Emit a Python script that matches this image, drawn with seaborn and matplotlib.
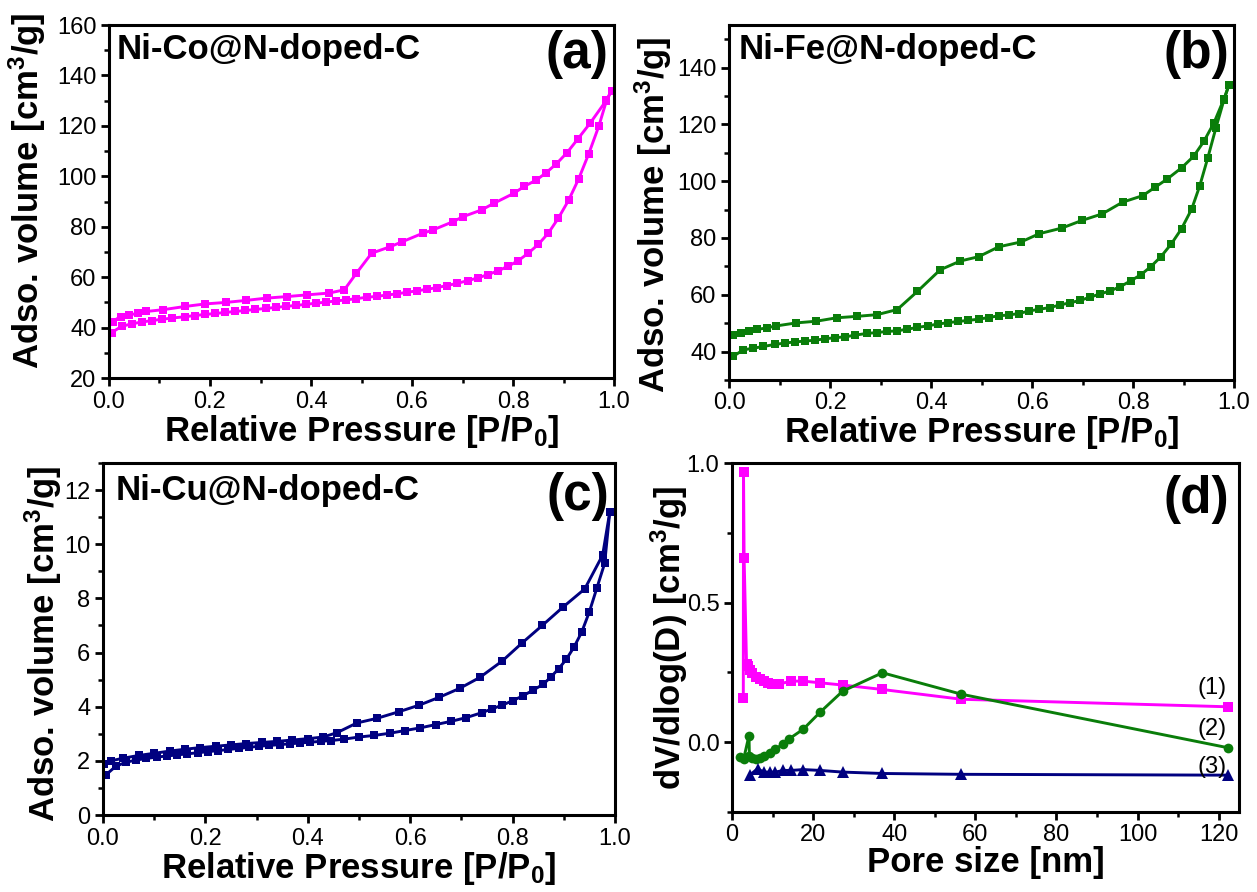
import matplotlib
matplotlib.use("Agg")
import matplotlib.pyplot as plt
from matplotlib.ticker import MultipleLocator
import seaborn as sns

# --- data ---

# (a) Ni-Co@N-doped-C isotherm
a_ads_p = [0.005, 0.025, 0.045, 0.065, 0.085, 0.105, 0.125, 0.15, 0.17, 0.19, 0.21, 0.23, 0.25,
           0.27, 0.29, 0.31, 0.33, 0.35, 0.37, 0.39, 0.41, 0.43, 0.45, 0.47, 0.49, 0.51, 0.53,
           0.55, 0.57, 0.59, 0.61, 0.63, 0.65, 0.67, 0.69, 0.71, 0.73, 0.75, 0.77, 0.79, 0.81,
           0.83, 0.85, 0.87, 0.89, 0.91, 0.93, 0.95, 0.97, 0.985, 0.995]
a_ads_v = [38, 40.5, 41.5, 42.2, 42.8, 43.3, 43.8, 44.3, 44.8, 45.2, 45.6, 46.0, 46.4,
           46.8, 47.2, 47.6, 48.0, 48.4, 48.8, 49.2, 49.7, 50.1, 50.6, 51.0, 51.5, 52.0, 52.4,
           52.9, 53.4, 54.0, 54.6, 55.2, 55.9, 56.7, 57.6, 58.6, 59.7, 61.0, 62.5, 64.3, 66.5,
           69.5, 73.0, 77.5, 83.5, 90.5, 99.0, 109.0, 120.0, 130.0, 134.0]
a_des_p = [0.995, 0.985, 0.953, 0.929, 0.907, 0.886, 0.866, 0.846, 0.822, 0.802, 0.762, 0.738,
           0.701, 0.681, 0.641, 0.621, 0.58, 0.557, 0.52, 0.49, 0.466, 0.436, 0.393, 0.352,
           0.312, 0.272, 0.232, 0.191, 0.151, 0.107, 0.074, 0.057, 0.04, 0.023, 0.007]
a_des_v = [134, 130.2, 121.2, 115, 109.4, 105, 101.5, 98.5, 96, 93.3, 89.3, 86.7,
           84, 82, 78.7, 77.4, 74, 72.1, 69.5, 61.6, 55, 53.7, 53, 52.3,
           51.7, 50.8, 50, 49.4, 48.4, 47.1, 46.4, 45.7, 45, 44.4, 42.4]

# (b) Ni-Fe@N-doped-C isotherm
b_ads_p = [0.008, 0.028, 0.048, 0.068, 0.09, 0.11, 0.13, 0.15, 0.17, 0.19, 0.21, 0.23, 0.25,
           0.273, 0.293, 0.313, 0.333, 0.353, 0.373, 0.394, 0.414, 0.434, 0.454, 0.474, 0.494,
           0.514, 0.534, 0.554, 0.574, 0.594, 0.614, 0.635, 0.655, 0.675, 0.695, 0.715, 0.735,
           0.755, 0.775, 0.795, 0.815, 0.835, 0.855, 0.876, 0.896, 0.916, 0.932, 0.948, 0.964,
           0.98, 0.99]
b_ads_v = [38.3, 40.6, 41.2, 41.8, 42.5, 43.0, 43.4, 43.7, 44.0, 44.5, 44.9, 45.2, 45.8,
           46.4, 46.7, 47.1, 47.3, 47.9, 48.5, 49.1, 49.7, 50.2, 50.6, 51.0, 51.4,
           52.0, 52.6, 52.9, 53.4, 54.3, 54.9, 55.5, 56.4, 57.2, 58.0, 59.2, 60.3,
           61.4, 62.9, 64.9, 67.0, 69.9, 73.4, 78.0, 83.3, 90.2, 98.4, 108.3, 118.8,
           128.7, 134.0]
b_des_p = [0.99, 0.98, 0.96, 0.94, 0.92, 0.896, 0.867, 0.843, 0.819, 0.779, 0.739, 0.699,
           0.659, 0.614, 0.578, 0.534, 0.494, 0.458, 0.418, 0.373, 0.333, 0.293, 0.253,
           0.213, 0.173, 0.133, 0.092, 0.076, 0.056, 0.04, 0.024, 0.008]
b_des_v = [134, 129, 120.5, 114, 108.8, 104.7, 100.7, 97.8, 94.9, 92.6, 88.5, 86.2,
           83.5, 81.5, 78.6, 76.9, 73.4, 71.9, 68.8, 61.2, 54.8, 53.0, 52.4,
           51.9, 50.7, 50.1, 49.0, 48.4, 47.8, 47.3, 46.5, 45.8]

# (c) Ni-Cu@N-doped-C isotherm
c_ads_p = [0.005, 0.025, 0.045, 0.065, 0.085, 0.105, 0.125, 0.145, 0.165, 0.185, 0.205, 0.225,
           0.245, 0.265, 0.285, 0.305, 0.325, 0.345, 0.365, 0.385, 0.405, 0.425, 0.445, 0.47,
           0.5, 0.53, 0.56, 0.59, 0.62, 0.65, 0.68, 0.71, 0.74, 0.76, 0.78, 0.8, 0.82, 0.84,
           0.86, 0.875, 0.89, 0.905, 0.92, 0.935, 0.95, 0.965, 0.98, 0.99]
c_ads_v = [1.47, 1.8, 1.95, 2.03, 2.09, 2.14, 2.18, 2.22, 2.26, 2.3, 2.34, 2.38,
           2.42, 2.46, 2.5, 2.54, 2.57, 2.6, 2.63, 2.66, 2.69, 2.72, 2.75, 2.8,
           2.88, 2.94, 3.02, 3.12, 3.22, 3.34, 3.46, 3.6, 3.78, 3.92, 4.06, 4.22, 4.4, 4.61,
           4.83, 5.1, 5.4, 5.75, 6.2, 6.75, 7.5, 8.4, 9.3, 11.2]
c_des_p = [0.99, 0.976, 0.941, 0.898, 0.858, 0.819, 0.78, 0.736, 0.697, 0.657, 0.618, 0.579,
           0.535, 0.496, 0.457, 0.43, 0.4, 0.37, 0.34, 0.31, 0.28, 0.25, 0.22, 0.19, 0.16,
           0.13, 0.1, 0.07, 0.04, 0.015, 0.003]
c_des_v = [11.2, 9.6, 8.35, 7.67, 7.0, 6.36, 5.69, 5.08, 4.68, 4.35, 4.06, 3.82,
           3.57, 3.4, 3.04, 2.88, 2.82, 2.77, 2.72, 2.68, 2.64, 2.59, 2.54, 2.49, 2.43,
           2.36, 2.28, 2.2, 2.1, 2.0, 1.9]

# (d) pore size distribution
d1_size = [2.8, 2.85, 3.0, 3.6, 3.9, 4.4, 4.9, 5.9, 6.8, 7.8, 8.8, 9.8, 11.7, 14.6, 17.6,
           21.7, 27.3, 37.1, 56.6, 122.4]
d1_val = [0.16, 0.97, 0.66, 0.28, 0.272, 0.258, 0.249, 0.233, 0.225, 0.219, 0.214, 0.21,
          0.209, 0.219, 0.219, 0.213, 0.205, 0.189, 0.154, 0.127]
d2_size = [2.0, 2.9, 4.2, 4.3, 4.9, 5.9, 6.8, 7.8, 9.3, 10.7, 12.7, 14.1, 17.6, 21.7, 27.3,
           37.1, 56.6, 122.4]
d2_val = [-0.053, -0.059, 0.024, -0.05, -0.057, -0.059, -0.057, -0.051, -0.039, -0.024,
          -0.006, 0.012, 0.047, 0.107, 0.183, 0.249, 0.172, -0.02]
d3_size = [4.4, 6.3, 7.8, 9.3, 10.7, 12.7, 14.6, 17.6, 21.7, 27.3, 37.1, 56.6, 122.4]
d3_val = [-0.118, -0.095, -0.107, -0.107, -0.107, -0.101, -0.101, -0.098, -0.101, -0.107,
          -0.112, -0.115, -0.118]
curve_labels = ["(1)", "(2)", "(3)"]

MAGENTA = "#ff00ff"
GREEN = "#0a7d0a"
NAVY = "#000080"

# --- style ---
sns.set_theme(style="ticks")
plt.rcParams["font.family"] = ["Liberation Sans", "DejaVu Sans"]
plt.rcParams["mathtext.default"] = "regular"
plt.rcParams["axes.linewidth"] = 2.2
for key in ["text.color", "axes.labelcolor", "xtick.color", "ytick.color",
            "xtick.labelcolor", "ytick.labelcolor", "axes.edgecolor"]:
    plt.rcParams[key] = "black"

fig = plt.figure(figsize=(12.57, 8.92), dpi=100)
ax_a = fig.add_axes([0.0867, 0.5762, 0.4018, 0.3957])
ax_b = fig.add_axes([0.5800, 0.5740, 0.4018, 0.3980])
ax_c = fig.add_axes([0.0819, 0.0863, 0.4073, 0.3946])
ax_d = fig.add_axes([0.5823, 0.0897, 0.4033, 0.3910])

LABEL_FS = 25
TICK_FS = 17
NAME_FS = 25


def line(ax, x, y, color, marker, ms=6):
    sns.lineplot(x=x, y=y, ax=ax, sort=False, estimator=None, color=color,
                 marker=marker, markersize=ms, markeredgewidth=0, linewidth=2.1)


def style_axis(ax, xmajor, xminor, ymajor, yminor):
    ax.xaxis.set_major_locator(MultipleLocator(xmajor))
    ax.xaxis.set_minor_locator(MultipleLocator(xminor))
    ax.yaxis.set_major_locator(MultipleLocator(ymajor))
    ax.yaxis.set_minor_locator(MultipleLocator(yminor))
    ax.tick_params(which="major", direction="out", length=6, width=2, labelsize=TICK_FS,
                   pad=3, color="black")
    ax.tick_params(which="minor", direction="out", length=3.5, width=1.8, color="black")
    for s in ax.spines.values():
        s.set_linewidth(2.2)
        s.set_color("black")


# (a)
line(ax_a, a_ads_p, a_ads_v, MAGENTA, "s")
line(ax_a, a_des_p, a_des_v, MAGENTA, "s")
ax_a.set_xlim(0, 1)
ax_a.set_ylim(20, 160)
style_axis(ax_a, 0.2, 0.1, 20, 10)
ax_a.xaxis.set_major_formatter(plt.FormatStrFormatter("%.1f"))
ax_a.text(0.016, 0.978, "Ni-Co@N-doped-C", transform=ax_a.transAxes, ha="left", va="top",
          fontsize=NAME_FS, fontweight="bold")
ax_a.text(0.988, 0.985, "(a)", transform=ax_a.transAxes, ha="right", va="top",
          fontsize=37, fontweight="bold")

# (b)
line(ax_b, b_ads_p, b_ads_v, GREEN, "s")
line(ax_b, b_des_p, b_des_v, GREEN, "s")
ax_b.set_xlim(0, 1)
ax_b.set_ylim(30, 155)
style_axis(ax_b, 0.2, 0.1, 20, 10)
ax_b.set_yticks([40, 60, 80, 100, 120, 140])
ax_b.xaxis.set_major_formatter(plt.FormatStrFormatter("%.1f"))
ax_b.text(0.018, 0.978, "Ni-Fe@N-doped-C", transform=ax_b.transAxes, ha="left", va="top",
          fontsize=NAME_FS, fontweight="bold")
ax_b.text(0.99, 0.985, "(b)", transform=ax_b.transAxes, ha="right", va="top",
          fontsize=37, fontweight="bold")

# (c)
line(ax_c, c_ads_p, c_ads_v, NAVY, "s")
line(ax_c, c_des_p, c_des_v, NAVY, "s")
ax_c.set_xlim(0, 1)
ax_c.set_ylim(0, 13)
style_axis(ax_c, 0.2, 0.1, 2, 1)
ax_c.xaxis.set_major_formatter(plt.FormatStrFormatter("%.1f"))
ax_c.text(0.025, 0.968, "Ni-Cu@N-doped-C", transform=ax_c.transAxes, ha="left", va="top",
          fontsize=NAME_FS, fontweight="bold")
ax_c.text(0.988, 0.975, "(c)", transform=ax_c.transAxes, ha="right", va="top",
          fontsize=37, fontweight="bold")

# (d)
line(ax_d, d1_size, d1_val, MAGENTA, "s", ms=6.5)
line(ax_d, d2_size, d2_val, GREEN, "o", ms=7)
line(ax_d, d3_size, d3_val, NAVY, "^", ms=8)
ax_d.set_xlim(0, 125)
ax_d.set_ylim(-0.25, 1.0)
style_axis(ax_d, 20, 10, 0.5, 0.25)
ax_d.yaxis.set_major_formatter(plt.FormatStrFormatter("%.1f"))
for lab, ly in zip(curve_labels, [0.195, 0.047, -0.089]):
    ax_d.text(118.5, ly, lab, ha="center", va="center", fontsize=17)
ax_d.text(0.98, 0.965, "(d)", transform=ax_d.transAxes, ha="right", va="top",
          fontsize=37, fontweight="bold")

# axis labels
vol_label = "Adso. volume [cm$^3$/g]"
press_label = "Relative Pressure [P/P$_0$]"
for ax in (ax_a, ax_b, ax_c):
    ax.set_xlabel(press_label, fontsize=LABEL_FS, fontweight="bold", labelpad=0)
    ax.set_ylabel(vol_label, fontsize=LABEL_FS, fontweight="bold")
ax_d.set_xlabel("Pore size [nm]", fontsize=LABEL_FS, fontweight="bold", labelpad=0)
ax_d.set_ylabel("dV/dlog(D) [cm$^3$/g]", fontsize=LABEL_FS, fontweight="bold")

ax_a.yaxis.set_label_coords(-0.12, 0.53)
ax_b.yaxis.set_label_coords(-0.11, 0.465)
ax_c.yaxis.set_label_coords(-0.076, 0.487)
ax_d.yaxis.set_label_coords(-0.083, 0.5)

fig.savefig("out.png", dpi=100)
